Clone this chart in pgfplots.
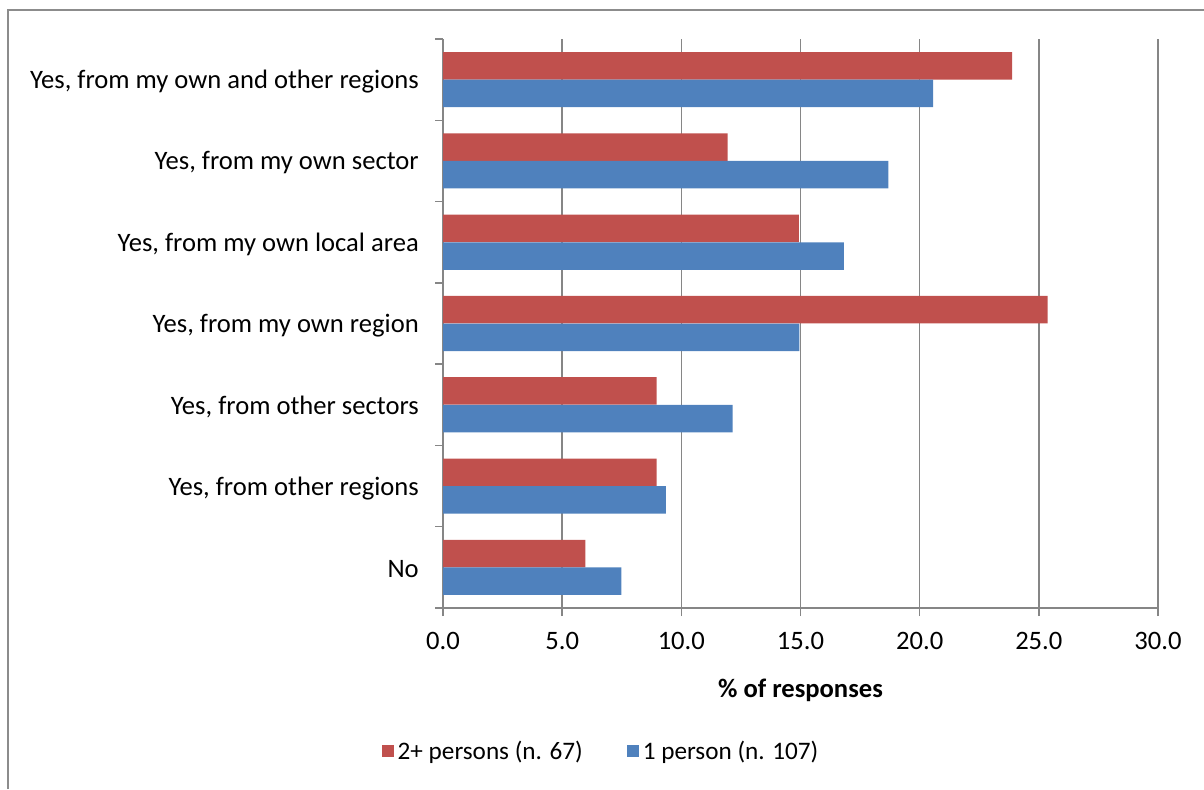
\documentclass[border=0pt]{standalone}
\usepackage{fontspec}
\setmainfont{Carlito}
\usepackage{pgfplots}
\pgfplotsset{compat=1.18}
\definecolor{barred}{RGB}{192,80,77}
\definecolor{barblue}{RGB}{79,129,189}
\definecolor{gridgray}{RGB}{134,134,134}
\definecolor{framegray}{RGB}{140,140,140}

\begin{document}
\begin{tikzpicture}[font=\fontsize{13.3}{16}\selectfont]
% picture is 1204 x 789 px at 0.5pt per px
\path[use as bounding box] (0,0) rectangle (602pt,394.5pt);
% chart frame (partly cut off in the reference)
\draw[framegray, line width=1pt] (4pt,0) -- (4pt,389.5pt) -- (602pt,389.5pt);

\begin{axis}[
    scale only axis,
    width=357.5pt, height=284.5pt,
    at={(221.5pt,90.5pt)}, anchor=south west,
    xbar, bar width=13.75pt,
    xmin=0, xmax=30,
    ymin=-0.5, ymax=6.5,
    xtick={0,5,...,30},
    ytick={0,...,6},
    yticklabels={No, {Yes, from other regions}, {Yes, from other sectors},
        {Yes, from my own region}, {Yes, from my own local area},
        {Yes, from my own sector}, {Yes, from my own and other regions}},
    minor ytick={-0.5,0.5,...,6.5},
    axis lines*=left,
    axis line style={gridgray, line width=0.7pt},
    tick align=outside,
    major tick length=4pt, minor tick length=4pt,
    major y tick style={draw=none},
    minor y tick style={gridgray, line width=0.7pt},
    major x tick style={gridgray, line width=0.7pt},
    xmajorgrids,
    major grid style={gridgray, line width=0.7pt},
    /pgf/number format/fixed,
    /pgf/number format/fixed zerofill,
    /pgf/number format/precision=1,
    /pgf/number format/assume math mode=true,
    xticklabel style={yshift=-4.6pt},
    yticklabel style={xshift=-4.6pt, yshift=-1pt},
    xlabel={\textbf{\% of responses}},
    xlabel style={at={(axis description cs:0.5,0)}, anchor=center, yshift=-41pt},
    legend style={at={(0.2224,-0.252)}, anchor=center, draw=none, fill=none,
        font=\fontsize{12.6}{15}\selectfont,
        legend columns=2, /tikz/every even column/.append style={column sep=20pt}},
    legend image code/.code={\fill[#1] (0pt,-3pt) rectangle (6pt,3pt);},
]
\addplot[draw=none, fill=barred, bar shift=6.9pt] coordinates {
    (5.97,0) (8.96,1) (8.96,2) (25.37,3) (14.93,4) (11.94,5) (23.88,6)};
\addlegendentry{2+ persons (n. 67)}
\addplot[draw=none, fill=barblue, bar shift=-6.9pt] coordinates {
    (7.48,0) (9.35,1) (12.15,2) (14.95,3) (16.82,4) (18.69,5) (20.56,6)};
\addlegendentry{1 person (n. 107)}
\end{axis}
\end{tikzpicture}
\end{document}
